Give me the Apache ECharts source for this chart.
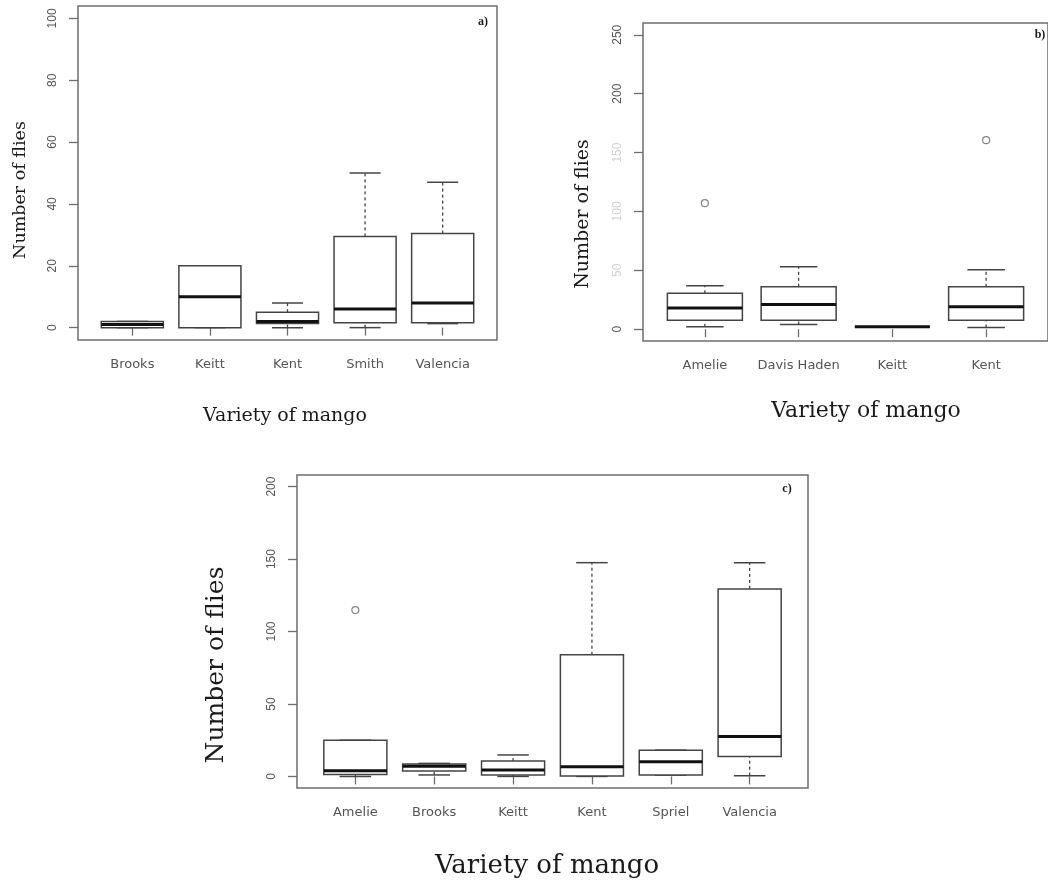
<!DOCTYPE html>
<html>
<head>
<meta charset="utf-8">
<script src="https://cdn.jsdelivr.net/npm/echarts@6/dist/echarts.min.js"></script>
<style>
  html, body { margin: 0; padding: 0; background: #fff; }
  #chart { width: 1048px; height: 884px; }
</style>
</head>
<body>
<div id="chart"></div>
<script>
// a) box stats per variety: [min, q1, median, q3, max]
const aCats = ['Brooks', 'Keitt', 'Kent', 'Smith', 'Valencia'];
const aStats = [
  [0, 0, 1, 2, 2],
  [0, 0, 10, 20, 20],
  [0, 1.3, 2, 5, 8],
  [0, 1.6, 6, 29.5, 50],
  [1.3, 1.6, 8, 30.4, 47]
];
const aOutliers = [];
const aTicks = [0, 20, 40, 60, 80, 100];

// b)
const bCats = ['Amelie', 'Davis Haden', 'Keitt', 'Kent'];
const bStats = [
  [2, 7.6, 18, 30.5, 37],
  [4, 7.6, 21, 36, 53],
  [2, 2, 2, 2, 2],
  [1.4, 7.6, 19, 36, 50.5]
];
const bOutliers = [['Amelie', 107], ['Kent', 160.5]];
const bTicks = [0, 50, 100, 150, 200, 250];

// c)
const cCats = ['Amelie', 'Brooks', 'Keitt', 'Kent', 'Spriel', 'Valencia'];
const cStats = [
  [0, 1.4, 3.9, 25, 25],
  [1, 3.7, 7, 8.6, 9],
  [0, 1, 4.4, 10.6, 14.8],
  [0, 0.2, 6.7, 84, 147.5],
  [0.9, 0.9, 10.2, 18.1, 18.1],
  [0.5, 13.7, 27.5, 129.4, 147.5]
];
const cOutliers = [['Amelie', 114.8]];
const cTicks = [0, 50, 100, 150, 200];

const chart = echarts.init(document.getElementById('chart'));

const frame = '#6e6e6e';
const boxCol = '#444';
const labCol = '#555';

function renderBox(params, api) {
  const x = api.value(0);
  const lo = api.coord([x, api.value(1)]);
  const q1 = api.coord([x, api.value(2)]);
  const med = api.coord([x, api.value(3)]);
  const q3 = api.coord([x, api.value(4)]);
  const hi = api.coord([x, api.value(5)]);
  const half = api.size([0.8, 0])[0] / 2;
  const cap = half / 2;
  const ln = (x1, y1, x2, y2, style) => ({ type: 'line', shape: { x1, y1, x2, y2 }, style });
  const dash = { stroke: boxCol, lineWidth: 1.3, lineDash: [3, 3] };
  const solid = { stroke: boxCol, lineWidth: 1.5 };
  return {
    type: 'group',
    children: [
      ln(lo[0], lo[1], q1[0], q1[1], dash),
      ln(q3[0], q3[1], hi[0], hi[1], dash),
      ln(lo[0] - cap, lo[1], lo[0] + cap, lo[1], solid),
      ln(hi[0] - cap, hi[1], hi[0] + cap, hi[1], solid),
      { type: 'rect', shape: { x: q1[0] - half, y: q3[1], width: half * 2, height: q1[1] - q3[1] },
        style: { fill: '#fff', stroke: boxCol, lineWidth: 1.5 } },
      ln(med[0] - half, med[1], med[0] + half, med[1], { stroke: '#111', lineWidth: 3 })
    ]
  };
}

const panels = [
  { cats: aCats, stats: aStats, out: aOutliers, ticks: aTicks, grid: { left: 78, top: 6, width: 419, height: 334 } },
  { cats: bCats, stats: bStats, out: bOutliers, ticks: bTicks, grid: { left: 643, top: 23, width: 414, height: 318 },
    faint: [50, 100, 150] },
  { cats: cCats, stats: cStats, out: cOutliers, ticks: cTicks, grid: { left: 297, top: 475, width: 511, height: 313 } }
];

const grid = [], xAxis = [], yAxis = [], series = [];
panels.forEach((p, i) => {
  const n = p.cats.length;
  const top = p.ticks[p.ticks.length - 1];
  const pos = p.cats.map((c, k) => k + 1);
  grid.push(Object.assign({ show: true, borderColor: frame, borderWidth: 1.5, backgroundColor: 'transparent' }, p.grid));
  xAxis.push({
    type: 'value', gridIndex: i,
    min: 0.5 - 0.04 * n, max: n + 0.5 + 0.04 * n,
    axisLine: { show: false }, splitLine: { show: false },
    axisTick: { show: true, customValues: pos, length: 8, lineStyle: { color: frame, width: 1.3 } },
    axisLabel: { customValues: pos, formatter: v => p.cats[Math.round(v) - 1] || '', margin: 18,
      color: labCol, fontSize: 13, fontFamily: 'DejaVu Sans' }
  });
  yAxis.push({
    type: 'value', gridIndex: i,
    min: -0.04 * top, max: top * 1.04,
    axisLine: { show: false }, splitLine: { show: false },
    axisTick: { show: true, customValues: p.ticks, length: 9, lineStyle: { color: frame, width: 1.3 } },
    axisLabel: { customValues: p.ticks, rotate: 90, margin: 19, fontSize: 12, fontFamily: 'Liberation Sans',
      color: p.faint ? (v => p.faint.indexOf(+v) >= 0 ? '#d0d0d0' : labCol) : labCol }
  });
  series.push({
    type: 'custom', xAxisIndex: i, yAxisIndex: i,
    renderItem: renderBox,
    encode: { x: 0, y: [1, 2, 3, 4, 5] },
    data: p.stats.map((s, k) => [k + 1].concat(s))
  });
  series.push({
    type: 'scatter', xAxisIndex: i, yAxisIndex: i,
    symbol: 'circle', symbolSize: 7,
    itemStyle: { color: '#fff', borderColor: '#666', borderWidth: 1.2 },
    data: p.out.map(o => [p.cats.indexOf(o[0]) + 1, o[1]])
  });
});

const serif = 'DejaVu Serif';
const txt = (text, x, y, size, rot, extra) => ({
  type: 'text', x, y, rotation: rot || 0,
  style: Object.assign({ text, font: size + 'px "' + serif + '"', fill: '#1a1a1a',
    textAlign: 'center', textVerticalAlign: 'middle', align: 'center', verticalAlign: 'middle' }, extra || {})
});

chart.setOption({
  animation: false,
  grid, xAxis, yAxis, series,
  graphic: [
    txt('Number of flies', 20, 190, 17.5, Math.PI / 2),
    txt('Number of flies', 583, 214, 19, Math.PI / 2),
    txt('Number of flies', 216, 665, 25, Math.PI / 2),
    txt('Variety of mango', 285, 416, 19),
    txt('Variety of mango', 866, 411, 22),
    txt('Variety of mango', 547, 866, 26),
    txt('a)', 483, 22, 12, 0, { font: 'bold 12px "Liberation Serif"' }),
    txt('b)', 1040, 35, 12, 0, { font: 'bold 12px "Liberation Serif"' }),
    txt('c)', 787, 489, 12, 0, { font: 'bold 12px "Liberation Serif"' })
  ]
});
</script>
</body>
</html>
